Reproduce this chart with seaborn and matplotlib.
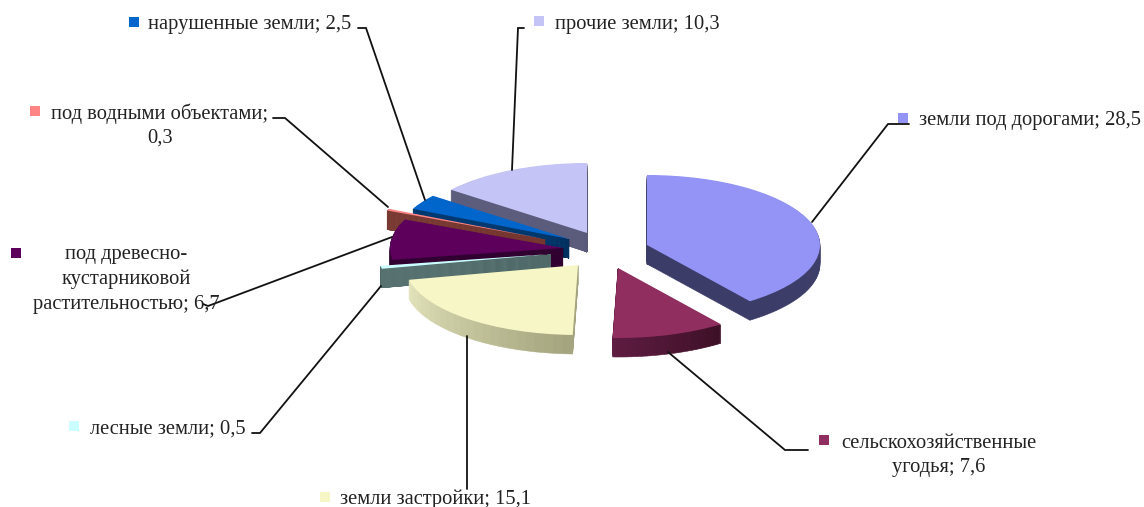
import numpy as np
import matplotlib
matplotlib.use("Agg")
import matplotlib.pyplot as plt
from matplotlib.patches import Rectangle
import seaborn as sns

# -----------------------------
# Data
# -----------------------------

names = ["земли под дорогами", "сельскохозяйственные угодья", "земли застройки", "лесные земли",
         "под древесно-кустарниковой растительностью", "под водными объектами",
         "нарушенные земли", "прочие земли"]
values = [28.5, 7.6, 15.1, 0.5, 6.7, 0.3, 2.5, 10.3]

top_colors = ["#9494F6", "#912E60", "#F6F6C6", "#CCFFFF", "#5C005C", "#FF8585", "#0066CC", "#C4C4F6"]
side_start = ["#44446E", "#3E1028", "#A4A47E", "#5A7474", "#300030", "#7C3E36", "#003A70", "#5C5C7C"]
side_end = ["#3C3C68", "#5E1C40", "#E4E4BC", "#506A6A", "#300030", "#74362E", "#003060", "#585878"]

# where each exploded slice has its tip, in pixels
tip_x = [647, 618, 578, 551, 563, 545, 569, 587]
tip_y = [245, 268, 265, 254, 248, 239, 239, 233]

label_lines = [["земли под дорогами; 28,5"],
               ["сельскохозяйственные", "угодья; 7,6"],
               ["земли застройки; 15,1"],
               ["лесные земли; 0,5"],
               ["под древесно-", "кустарниковой", "растительностью; 6,7"],
               ["под водными объектами;", "0,3"],
               ["нарушенные земли; 2,5"],
               ["прочие земли; 10,3"]]
label_cx = [1030, 939, 436, 168, 126, 160, 250, 637]
label_cy = [120, 443, 499, 429, 255, 114, 25, 24]
key_x = [898, 819, 320, 69, 11, 30, 129, 534]
key_y = [113, 435, 492, 421, 248, 106, 17, 16]
leader_x = [[909, 888, 812], [808, 785, 668], [467, 467], [252, 260, 381],
            [203, 208, 392], [273, 285, 388], [358, 366, 425], [524, 518, 512]]
leader_y = [[124, 124, 222], [450, 450, 352], [336, 489], [433, 433, 286],
            [304, 306, 237], [118, 118, 207], [28, 28, 200], [28, 28, 170]]

W, H = 1144, 507
RX, RY = 173, 70
DEPTH = 19
STEPS = 24

# -----------------------------
# Figure
# -----------------------------

sns.set_theme(style="white")
plt.rcParams["font.family"] = ["Liberation Serif", "DejaVu Serif"]

fig = plt.figure(figsize=(W / 100, H / 100), dpi=100, facecolor="white")
ax = fig.add_axes([0, 0, 1, 1])
over = fig.add_axes([0, 0, 1, 1])
over.patch.set_alpha(0)

total = sum(values)
fractions = np.array(values) / total
starts = np.concatenate([[0], np.cumsum(fractions)[:-1]]) * 360

# back slices first, the front ones cover them
order = [7, 6, 5, 4, 3, 2, 1, 0]
for i in order:
    cx = tip_x[i] / RX
    cy = (H - tip_y[i]) / RY
    chunks = [fractions[i] / STEPS] * STEPS
    shades = sns.blend_palette([side_start[i], side_end[i]], STEPS)
    # side of the slice: same wedge stacked downward
    for d in range(DEPTH, 0, -1):
        wedges, _ = ax.pie(chunks, normalize=False, startangle=90 - starts[i], counterclock=False,
                           center=(cx, cy - d / RY), colors=shades, wedgeprops={"linewidth": 0.4})
        for w in wedges:
            w.set_edgecolor(w.get_facecolor())
    ax.pie([fractions[i]], normalize=False, startangle=90 - starts[i], counterclock=False,
           center=(cx, cy), colors=[top_colors[i]], wedgeprops={"linewidth": 0})

ax.set_aspect("auto")
ax.set_xlim(0, W / RX)
ax.set_ylim(0, H / RY)
ax.axis("off")

# -----------------------------
# Labels, keys and leader lines
# -----------------------------

over.set_xlim(0, W)
over.set_ylim(H, 0)
over.axis("off")

for i in range(len(values)):
    over.plot(leader_x[i], leader_y[i], color="#111111", lw=1.3, solid_joinstyle="miter")
    over.add_patch(Rectangle((key_x[i], key_y[i]), 10, 10, color=top_colors[i], lw=0))
    for j, line in enumerate(label_lines[i]):
        over.text(label_cx[i], label_cy[i] + j * 24.5, line, ha="center", va="center",
                  fontsize=14.8, color="#222222")

plt.savefig("out.png", dpi=100)
